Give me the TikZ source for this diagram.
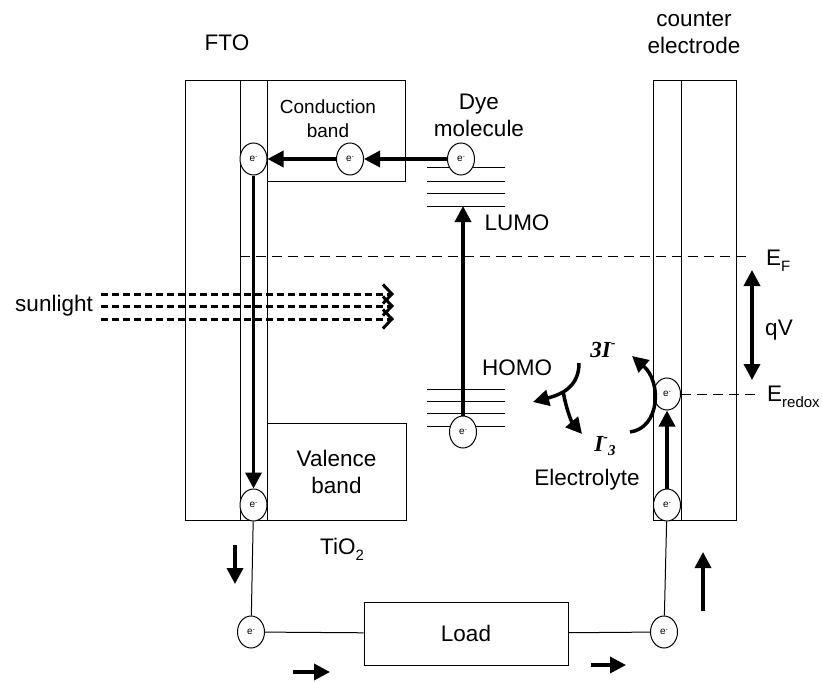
\documentclass[tikz,border=0pt]{standalone}
\usepackage{fontspec}
\setmainfont{Liberation Sans}
\newfontfamily\ionfont{Liberation Serif}
\usepackage{tikz}
\usetikzlibrary{arrows.meta, shapes.geometric, positioning}

\newcommand{\lowsub}[1]{\raisebox{-0.28em}{\fontsize{15}{15}\selectfont #1}}
\newcommand{\elec}{e\raisebox{0.55ex}{\fontsize{6}{6}\selectfont -}}

\tikzset{
  txt/.style={font=\fontsize{22.5}{27}\selectfont, align=center, inner sep=2pt},
  box/.style={draw, line width=1pt, txt},
  electron/.style={ellipse, draw, fill=white, line width=1pt, minimum width=27pt,
    minimum height=32pt, inner sep=0pt, font=\fontsize{10}{10}\selectfont},
  flow/.style={line width=3.5pt, -{Triangle[length=16pt,width=16pt]}},
  dflow/.style={line width=3.5pt, {Triangle[length=16pt,width=16pt]}-{Triangle[length=16pt,width=16pt]}},
  wire/.style={line width=1pt},
  level/.style={line width=1pt, dash pattern=on 10pt off 6pt},
  sunray/.style={line width=3pt, dash pattern=on 7pt off 4pt,
    -{Straight Barb[length=9pt,width=19pt]}},
  ion/.style={font={\ionfont\fontsize{23}{26}\selectfont\bfseries\itshape}, inner sep=1pt}
}

\begin{document}
\begin{tikzpicture}[x=1pt, y=-1pt]
    \useasboundingbox (0,0) rectangle (822,682);
    % FTO / TiO2 side
    \draw[wire] (185,81) rectangle (240,520);
    \draw[wire] (240,81) rectangle (267,520);
    \draw[wire] (267,81) rectangle (405,181);
    \node[box, minimum width=139pt, minimum height=97pt] (vb) at (336.5,471.5) {Valence\\band};
    % counter electrode
    \draw[wire] (653,81) rectangle (681,520);
    \draw[wire] (681,81) rectangle (736,520);
    \node[box, minimum width=204pt, minimum height=63pt] (load) at (466,633.5) {Load};

    % labels
    \node[txt] (fto) at (227,43) {FTO};
    \node[txt] (ce) at (694,33) {counter\\electrode};
    \node[txt, font=\fontsize{19}{24}\selectfont] (cb) at (328,119) {Conduction\\band};
    \node[txt] (dye) at (479,115) {Dye\\molecule};
    \node[txt] (lumo) at (517,223) {LUMO};
    \node[txt] (homo) at (517,368) {HOMO};
    \node[txt, anchor=west] (ef) at (764,261) {E\lowsub{F}};
    \node[txt] (qv) at (779,330) {qV};
    \node[txt, anchor=west] (ered) at (765,397) {E\lowsub{redox}};
    \node[txt] (tio) at (342,549) {TiO\lowsub{2}};
    \node[txt] (elyte) at (587,480) {Electrolyte};
    \node[txt, anchor=east] (sun) at (95,306) {sunlight};
    \node[ion] (tri) at (603,350) {3I\raisebox{0.45em}{\fontsize{14}{14}\selectfont -}};
    \node[ion] (itri) at (605,446) {I\raisebox{0.4em}{\fontsize{14}{14}\selectfont -}\raisebox{-0.2em}{\fontsize{15}{15}\selectfont 3}};

    % dye levels
    \foreach \y in {168,181,193,206,389,401,413,426}
        \draw[wire] (427,\y) -- (505,\y);
    \coordinate (lumobot) at (463,206);

    % energy levels
    \coordinate (fl0) at (240,256);
    \coordinate (fl1) at (752,256);
    \draw[level] (fl0) -- (fl1);

    % electrons
    \node[electron] (e1) at (253.5,159) {\elec};
    \node[electron] (e2) at (350,159) {\elec};
    \node[electron] (e3) at (461,159) {\elec};
    \node[electron] (e4) at (463,432) {\elec};
    \node[electron] (e5) at (253.5,505) {\elec};
    \node[electron] (e6) at (251,632) {\elec};
    \node[electron] (e7) at (664,632) {\elec};
    \node[electron] (e8) at (667,505) {\elec};
    \node[electron] (e9) at (667,394) {\elec};

    \draw[level, shorten >=6pt] (e9.east) -- (e9.east -| ered.west);

    % sunlight
    \foreach \y [count=\i] in {294,306,319} {
        \coordinate (s\i a) at (101,\y);
        \coordinate (s\i b) at (394,\y);
        \draw[sunray] (s\i a) -- (s\i b);
    }

    % electron flow
    \draw[flow] (e3) -- (e2);
    \draw[flow] (e2) -- (e1);
    \draw[flow] (e1) -- (e5);
    \draw[flow] (e4) -- (lumobot);
    \draw[flow] (e8) -- (e9);
    \coordinate (qtop) at (752,270);
    \coordinate (qbot) at (752,380);
    \draw[dflow] (qtop) -- (qbot);

    % external circuit
    \draw[wire] (e5) -- (e6);
    \draw[wire] (e6) -- (load);
    \draw[wire] (load) -- (e7);
    \draw[wire] (e7) -- (e8);
    \coordinate (d0) at (235,545);  \coordinate (d1) at (235,584);
    \coordinate (r0) at (293,672);  \coordinate (r1) at (330,672);
    \coordinate (q0) at (591,665);  \coordinate (q1) at (626,665);
    \coordinate (u0) at (703,611);  \coordinate (u1) at (703,552);
    \draw[flow] (d0) -- (d1);
    \draw[flow] (r0) -- (r1);
    \draw[flow] (q0) -- (q1);
    \draw[flow] (u0) -- (u1);

    % redox couple
    \coordinate (c0) at (579,363);
    \coordinate (c1) at (533,402);
    \coordinate (c2) at (563,391);
    \coordinate (c3) at (582,434);
    \coordinate (c4) at (630,432);
    \coordinate (c5) at (632,356);
    \draw[flow] (c0) .. controls (579,386) and (563,394) .. (c1);
    \draw[flow] (c2) .. controls (566,408) and (571,421) .. (c3);
    \draw[flow] (c4) .. controls (660,428) and (662,382) .. (c5);
\end{tikzpicture}
\end{document}
